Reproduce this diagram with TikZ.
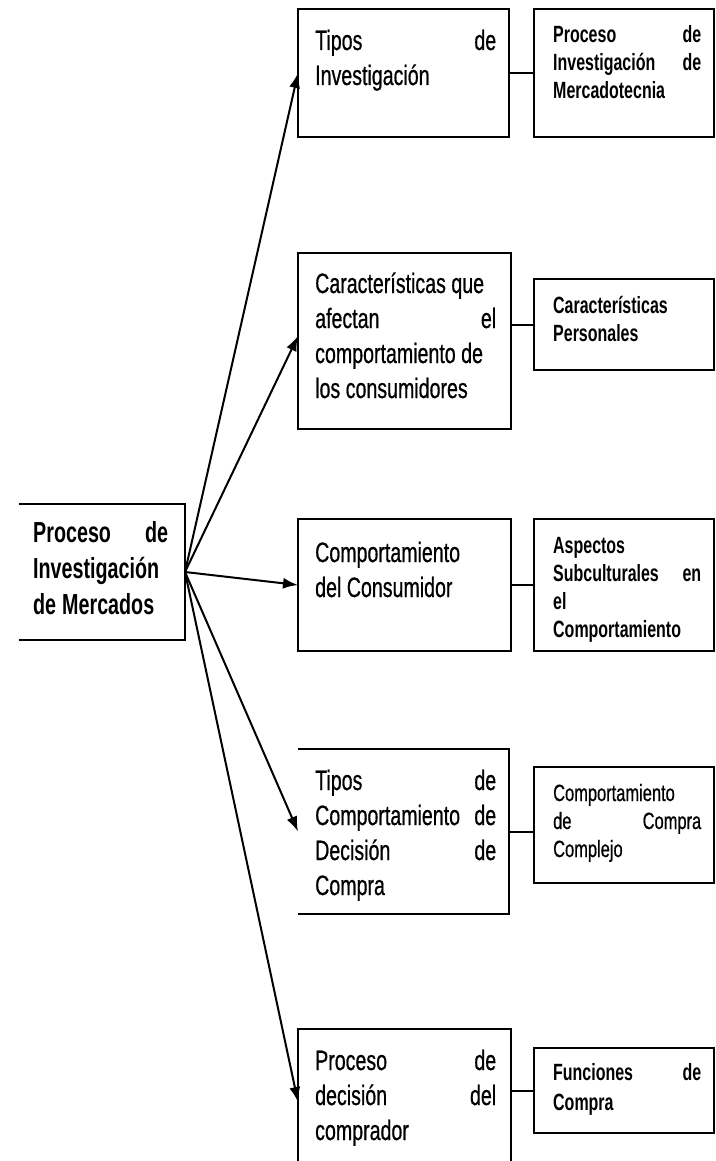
\documentclass[tikz,border=0pt]{standalone}
\usepackage{fontspec}
\setmainfont{Liberation Sans}
\newfontfamily\regfont{Liberation Sans}[FakeStretch=0.70,FakeBold=0.6]
\newfontfamily\heavyfont{Liberation Sans}[FakeStretch=0.68]
\usetikzlibrary{arrows.meta}

% word spacing for the condensed text
\newcommand\wordgap[1]{\spaceskip=#1\relax}

\tikzset{
  frame/.style={draw=black, line width=2pt, inner sep=0pt, outer sep=0pt},
  openframe/.style={inner sep=0pt, outer sep=0pt},
  maintxt/.style={anchor=base west, inner sep=0pt, text width=135pt, align=left,
    font=\heavyfont\bfseries\fontsize{29}{36}\selectfont,
    execute at begin node=\wordgap{6pt}},
  midtxt/.style={anchor=base west, inner sep=0pt, text width=181pt, align=left,
    font=\regfont\fontsize{28}{35}\selectfont,
    execute at begin node=\wordgap{5.5pt}},
  sidetxt/.style={anchor=base west, inner sep=0pt, text width=148pt, align=left,
    font=\heavyfont\bfseries\fontsize{23.5}{28}\selectfont,
    execute at begin node=\wordgap{5pt}},
  sidereg/.style={anchor=base west, inner sep=0pt, text width=148pt, align=left,
    font=\regfont\fontsize{23.5}{28}\selectfont,
    execute at begin node=\wordgap{5pt}},
  link/.style={line width=2pt},
  arrow/.style={line width=2pt, -{Latex[length=15pt,width=11pt]}},
}

\begin{document}
\begin{tikzpicture}[x=1pt,y=-1pt]
  \useasboundingbox (0,0) rectangle (715,1161);
  \fill[white] (0,0) rectangle (715,1161);
  \clip (0,0) rectangle (715,1161);

  % root box (open on the left)
  \node[openframe, minimum width=166pt, minimum height=136pt] (m) at (102,572) {};
  \draw[link] (m.north west) -- (m.north east) -- (m.south east) -- (m.south west);
  \node[maintxt] (mt) at (33,542) {Proceso\hfill de\\Investigación\\de Mercados};

  % middle column
  \node[frame, minimum width=211pt, minimum height=128pt] (b1) at (403.5,73) {};
  \node[frame, minimum width=213pt, minimum height=176pt] (b2) at (404.5,341) {};
  \node[frame, minimum width=213pt, minimum height=132pt] (b3) at (404.5,585) {};
  \node[openframe, minimum width=211pt, minimum height=165pt] (b4) at (403.5,831.5) {};
  \draw[link] (b4.north west) -- (b4.north east) -- (b4.south east) -- (b4.south west);
  \node[frame, minimum width=213pt, minimum height=146pt] (b5) at (404.5,1102) {};

  \node[midtxt] (t1) at (315,50) {Tipos\hfill de\\Investigación};
  \node[midtxt] (t2) at (315,293) {Características que\\afectan\hfill el\\comportamiento de\\los consumidores};
  \node[midtxt] (t3) at (315,562) {Comportamiento\\del Consumidor};
  \node[midtxt] (t4) at (315,790) {Tipos\hfill de\\Comportamiento\hfill de\\Decisión\hfill de\\Compra};
  \node[midtxt] (t5) at (315,1070) {Proceso\hfill de\\decisión\hfill del\\comprador};

  % right column
  \node[frame, minimum width=180pt, minimum height=128pt] (r1) at (624,73) {};
  \node[frame, minimum width=180pt, minimum height=91pt] (r2) at (624,324.5) {};
  \node[frame, minimum width=180pt, minimum height=132pt] (r3) at (624,585) {};
  \node[frame, minimum width=180pt, minimum height=116pt] (r4) at (624,825) {};
  \node[frame, minimum width=180pt, minimum height=85pt] (r5) at (624,1090.5) {};

  \node[sidetxt] (s1) at (553,43) {Proceso\hfill de\\Investigación\hfill de\\Mercadotecnia};
  \node[sidetxt] (s2) at (553,313) {Características\\Personales};
  \node[sidetxt] (s3) at (553,553) {Aspectos\\Subculturales\hfill en\\el\\Comportamiento};
  \node[sidereg] (s4) at (553,801) {Comportamiento\\de\hfill Compra\\Complejo};
  \node[sidetxt, font=\heavyfont\bfseries\fontsize{23.5}{30}\selectfont] (s5) at (553,1080) {Funciones\hfill de\\Compra};

  % links between columns
  \draw[link] (b1.east) -- (r1.west);
  \draw[link] (b2.east |- r2.west) -- (r2.west);
  \draw[link] (b3.east) -- (r3.west);
  \draw[link] (b4.east) -- (b4.east -| r4.west);
  \draw[link] (b5.east |- r5.west) -- (r5.west);

  % arrows from the root
  \draw[arrow] (m.east) -- (b1.west);
  \draw[arrow] (m.east) -- ([yshift=5pt]b2.west);
  \draw[arrow] (m.east) -- (b3.west);
  \draw[arrow] (m.east) -- (b4.west);
  \draw[arrow] (m.east) -- (b5.west);
\end{tikzpicture}
\end{document}
